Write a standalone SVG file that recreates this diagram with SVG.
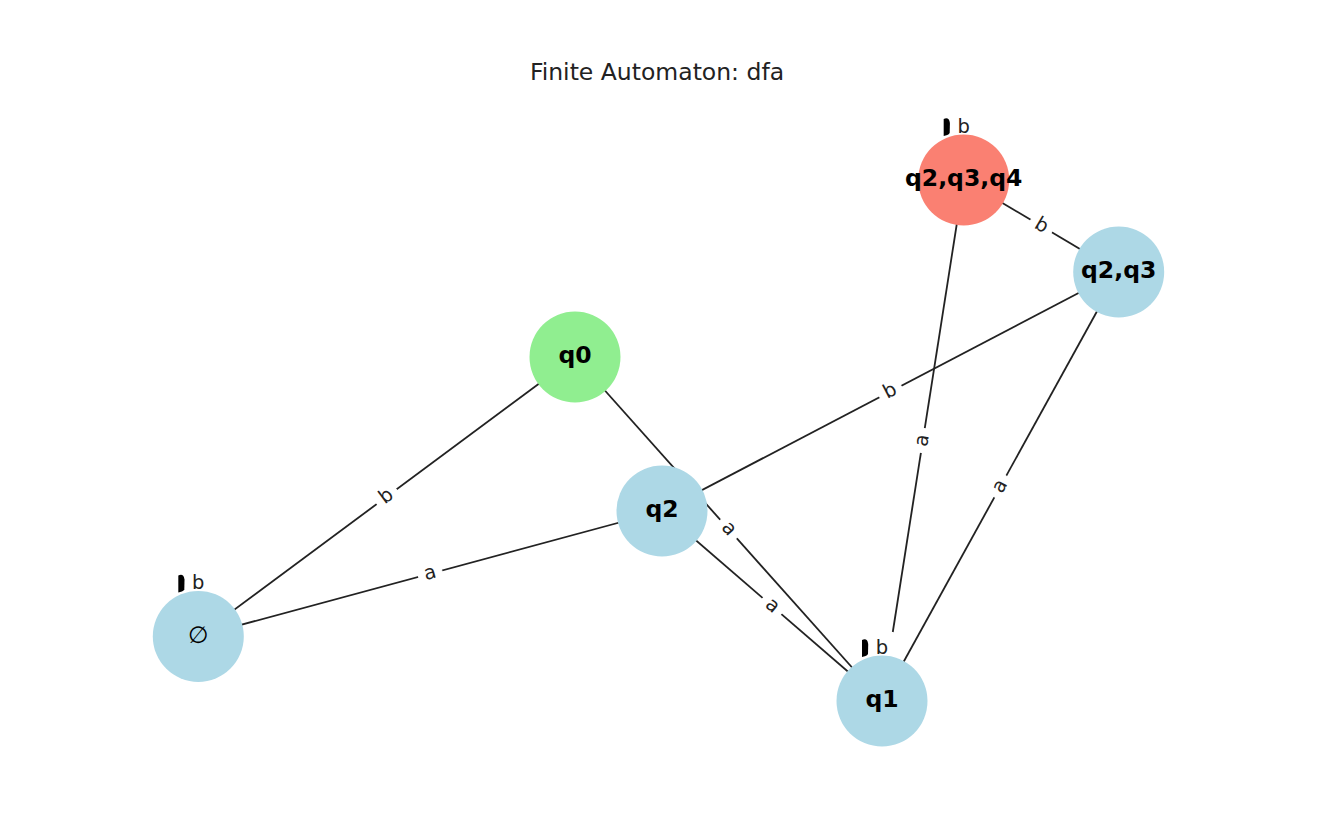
<svg xmlns="http://www.w3.org/2000/svg" width="1343" height="839" viewBox="0 0 1343 839">
<style>
.edge{stroke:#222;stroke-width:1.8;fill:none;stroke-linecap:butt}
.node circle{stroke:none}
.nl{font-family:"DejaVu Sans",sans-serif;font-weight:bold;font-size:23.5px;text-anchor:middle;fill:#000}
.el rect{fill:#fff;stroke:#fff}
.el text,.loop text{font-family:"DejaVu Sans",sans-serif;font-size:19.5px;text-anchor:middle;fill:#222}
.bar{fill:#000}
.title{font-family:"DejaVu Sans",sans-serif;font-size:23.5px;text-anchor:middle;fill:#222}
</style>
<defs>
<path id="loopbar" d="M -20,-61 C -17,-62.5 -14.5,-62 -13.8,-57 L -14,-47 C -15,-45 -17.5,-44.5 -20,-44 Z"/>
</defs>
<rect width="1343" height="839" fill="#fff"/>
<text class="title" x="657" y="80">Finite Automaton: dfa</text>
<g id="edges">
<line class="edge" x1="963.7" y1="180" x2="1118.7" y2="272"/>
<line class="edge" x1="963.7" y1="180" x2="892.8" y2="632"/>
<line class="edge" x1="1118.7" y1="272" x2="662" y2="511"/>
<line class="edge" x1="1118.7" y1="272" x2="882" y2="701"/>
<line class="edge" x1="575" y1="357" x2="198.3" y2="636.4"/>
<line class="edge" x1="575" y1="357" x2="882" y2="701"/>
<line class="edge" x1="662" y1="511" x2="198.3" y2="636.4"/>
<line class="edge" x1="662" y1="511" x2="882" y2="701"/>
</g>
<g id="node-q0" class="node"><circle cx="575" cy="357" r="45.5" fill="#90EE90"/><text class="nl" x="575" y="363.2">q0</text></g>
<g id="node-q2" class="node"><circle cx="662" cy="511" r="45.5" fill="#ADD8E6"/><text class="nl" x="662" y="517.2">q2</text></g>
<g id="node-q2q3" class="node"><circle cx="1118.7" cy="272" r="45.5" fill="#ADD8E6"/><text class="nl" x="1118.7" y="278.2">q2,q3</text></g>
<g id="node-q2q3q4" class="node"><circle cx="963.7" cy="180" r="45.5" fill="#FA8072"/><text class="nl" x="963.7" y="186.2">q2,q3,q4</text>
<g class="loop" transform="translate(963.7,180)"><use href="#loopbar" class="bar"/><text x="0" y="-47.5">b</text></g></g>
<g id="node-empty" class="node"><circle cx="198.3" cy="636.4" r="45.5" fill="#ADD8E6"/><text class="nl" x="198.3" y="642.6" style="font-weight:normal">∅</text>
<g class="loop" transform="translate(198.3,636.4)"><use href="#loopbar" class="bar"/><text x="0" y="-47.5">b</text></g></g>
<g id="node-q1" class="node"><circle cx="882" cy="701" r="45.5" fill="#ADD8E6"/><text class="nl" x="882" y="707.2">q1</text>
<g class="loop" transform="translate(882,701)"><use href="#loopbar" class="bar"/><text x="0" y="-47.5">b</text></g></g>
<g id="edge-labels">
<g class="el" transform="translate(1041.2,226) rotate(30.7)"><rect x="-12" y="-15.5" width="24" height="31" rx="5"/><text y="5.1">b</text></g>
<g class="el" transform="translate(922.8,440.5) rotate(-81.1)"><rect x="-12" y="-15.5" width="24" height="31" rx="5"/><text y="5.1">a</text></g>
<g class="el" transform="translate(890.4,391.5) rotate(-27.6)"><rect x="-12" y="-15.5" width="24" height="31" rx="5"/><text y="5.1">b</text></g>
<g class="el" transform="translate(1000.4,486.5) rotate(-61.1)"><rect x="-12" y="-15.5" width="24" height="31" rx="5"/><text y="5.1">a</text></g>
<g class="el" transform="translate(386.7,496.7) rotate(-36.6)"><rect x="-12" y="-15.5" width="24" height="31" rx="5"/><text y="5.1">b</text></g>
<g class="el" transform="translate(728.5,529) rotate(48.2)"><rect x="-12" y="-15.5" width="24" height="31" rx="5"/><text y="5.1">a</text></g>
<g class="el" transform="translate(430.2,573.7) rotate(-15.1)"><rect x="-12" y="-15.5" width="24" height="31" rx="5"/><text y="5.1">a</text></g>
<g class="el" transform="translate(772,606) rotate(40.8)"><rect x="-12" y="-15.5" width="24" height="31" rx="5"/><text y="5.1">a</text></g>
</g>
</svg>
